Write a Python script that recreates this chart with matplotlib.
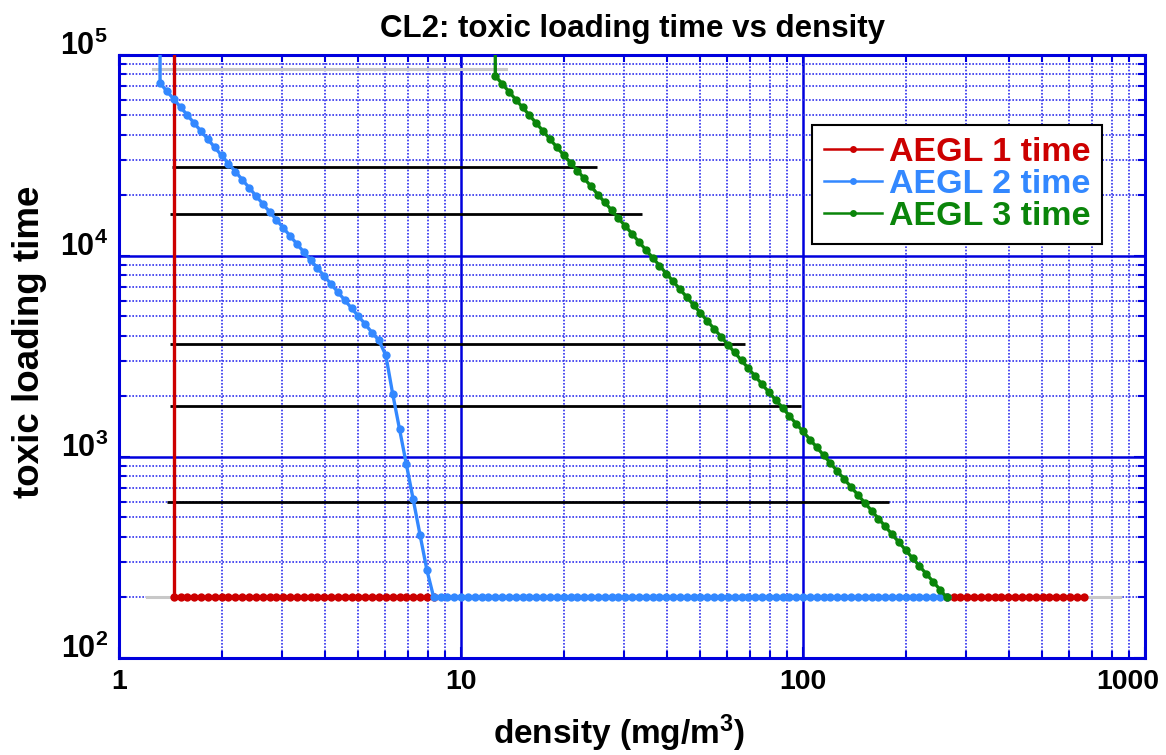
import numpy as np
import matplotlib.pyplot as plt
from matplotlib.lines import Line2D

plt.rcParams['font.family'] = ['Liberation Sans', 'DejaVu Sans']
plt.rcParams['font.weight'] = 'bold'
plt.rcParams['mathtext.fontset'] = 'custom'
plt.rcParams['mathtext.rm'] = 'Liberation Sans:bold'
plt.rcParams['mathtext.bf'] = 'Liberation Sans:bold'
plt.rcParams['mathtext.it'] = 'Liberation Sans:bold:italic'

# density samples (mg/m3) at the marker positions, index = position on the grid
density = [
    1.000, 1.047, 1.096, 1.148, 1.202, 1.259, 1.318, 1.380, 1.445, 1.514,
    1.585, 1.660, 1.738, 1.820, 1.905, 1.995, 2.089, 2.188, 2.291, 2.399,
    2.512, 2.630, 2.754, 2.884, 3.020, 3.162, 3.311, 3.467, 3.631, 3.802,
    3.981, 4.169, 4.365, 4.571, 4.786, 5.012, 5.248, 5.495, 5.754, 6.026,
    6.310, 6.607, 6.918, 7.244, 7.586, 7.943, 8.318, 8.710, 9.120, 9.550,
    10.00, 10.47, 10.96, 11.48, 12.02, 12.59, 13.18, 13.80, 14.45, 15.14,
    15.85, 16.60, 17.38, 18.20, 19.05, 19.95, 20.89, 21.88, 22.91, 23.99,
    25.12, 26.30, 27.54, 28.84, 30.20, 31.62, 33.11, 34.67, 36.31, 38.02,
    39.81, 41.69, 43.65, 45.71, 47.86, 50.12, 52.48, 54.95, 57.54, 60.26,
    63.10, 66.07, 69.18, 72.44, 75.86, 79.43, 83.18, 87.10, 91.20, 95.50,
    100.0, 104.7, 109.6, 114.8, 120.2, 125.9, 131.8, 138.0, 144.5, 151.4,
    158.5, 166.0, 173.8, 182.0, 190.5, 199.5, 208.9, 218.8, 229.1, 239.9,
    251.2, 263.0, 275.4, 288.4, 302.0, 316.2, 331.1, 346.7, 363.1, 380.2,
    398.1, 416.9, 436.5, 457.1, 478.6, 501.2, 524.8, 549.5, 575.4, 602.6,
    631.0, 660.7, 691.8, 724.4, 758.6, 794.3, 831.8, 871.0, 912.0, 955.0,
]

FLOOR = 200        # minimum loading time
OFF_TOP = 1e6      # curves enter from above the plot

# AEGL 2: density[6] .. density[46], then flat at FLOOR
aegl2_curve = [72440, 66070, 60260, 54950, 50120, 45710, 41690, 38020, 34670,
               31620, 28840, 26300, 23990, 21880, 19950, 18200, 16600, 15140,
               13800, 12590, 11480, 10470, 9550, 8710, 7943, 7244, 6607, 6026,
               5495, 5012, 4571, 4150, 3800, 3200, 2060, 1377, 920, 615, 410,
               274, 200]

# AEGL 3: density[55] .. density[121]
aegl3_curve = [78700, 71900, 65700, 60000, 54800, 50100, 45700, 41800, 38100,
               34800, 31800, 29100, 26600, 24300, 22200, 20200, 18500, 16900,
               15400, 14100, 12900, 11750, 10740, 9810, 8960, 8180, 7480, 6830,
               6240, 5700, 5200, 4750, 4340, 3970, 3620, 3310, 3020, 2760, 2520,
               2300, 2100, 1920, 1760, 1600, 1460, 1340, 1220, 1120, 1020, 932,
               851, 777, 710, 649, 592, 541, 494, 452, 412, 377, 344, 314, 287,
               262, 240, 219, 200]

# black reference levels
ref_levels = [27800, 16100, 3640, 1790, 600]
ref_start = [1.43, 1.41, 1.41, 1.41, 1.38]
ref_end = [24.9, 33.8, 67.6, 98.5, 178]

# gray background limits
floor_x = [1.21, 845]
ceil_x = [1.26, 13.5]
ceil_level = 85000

xtick_vals = [1, 10, 100, 1000]
xtick_text = ['1', '10', '100', '1000']
ytick_vals = [1e2, 1e3, 1e4, 1e5]
ytick_text = [r'$\mathbf{10^{2}}$', r'$\mathbf{10^{3}}$',
              r'$\mathbf{10^{4}}$', r'$\mathbf{10^{5}}$']

aegl1_x = [density[8]] + density[8:47] + [np.nan] + density[121:142]
aegl1_y = [OFF_TOP] + [FLOOR] * 39 + [np.nan] + [FLOOR] * 21
aegl2_x = [density[6]] + density[6:122]
aegl2_y = [OFF_TOP] + aegl2_curve + [FLOOR] * 75
aegl3_x = [density[55]] + density[55:122]
aegl3_y = [OFF_TOP] + aegl3_curve

RED = '#cc0000'
BLUE = '#3388ff'
GREEN = '#0a850a'
GRIDBLUE = '#0000dd'

fig = plt.figure(figsize=(11.66, 7.55), dpi=100)
ax = fig.add_axes([0.1021, 0.1285, 0.880, 0.7987])
ax.set_xscale('log')
ax.set_yscale('log')
ax.set_xlim(1, 1000)
ax.set_ylim(100, 1e5)
ax.set_axisbelow(True)

ax.grid(True, which='major', color=GRIDBLUE, lw=1.8, ls='-')
ax.grid(True, which='minor', color='#3030ee', lw=1.2, ls=(0, (1, 1)))

ax.plot(floor_x, [FLOOR, FLOOR], color='#c8c8c8', lw=2.2, zorder=2)
ax.plot(ceil_x, [ceil_level, ceil_level], color='#c8c8c8', lw=2.2, zorder=2)
ax.hlines(ref_levels, ref_start, ref_end, color='black', lw=2, zorder=2.5)

style = dict(lw=2.4, marker='o', ms=6, mew=0, zorder=3)
ax.plot(aegl1_x, aegl1_y, color=RED, **style)
ax.plot(aegl2_x, aegl2_y, color=BLUE, **style)
ax.plot(aegl3_x, aegl3_y, color=GREEN, **style)

handles = [Line2D([0], [0], color=c, lw=1.8, marker='o', ms=5, mew=0)
           for c in (RED, BLUE, GREEN)]
leg = ax.legend(handles, ['AEGL 1 time', 'AEGL 2 time', 'AEGL 3 time'],
                loc='upper right', bbox_to_anchor=(0.958, 0.884),
                borderaxespad=0, fancybox=False, framealpha=1,
                edgecolor='black', labelcolor='linecolor',
                prop={'weight': 'bold', 'size': 24.5},
                handlelength=1.7, handletextpad=0.2, labelspacing=0.03,
                borderpad=0.35, numpoints=1)
leg.get_frame().set_linewidth(1.5)

# the last x label is pulled in from the right edge, so it is drawn by hand
ax.set_xticks(xtick_vals, labels=xtick_text[:-1] + [''])
ax.annotate(xtick_text[-1], xy=(xtick_vals[-1], ytick_vals[0]),
            xytext=(-17, -11), textcoords='offset pixels',
            ha='center', va='top', fontsize=20.5, fontweight='bold',
            annotation_clip=False)
ax.set_yticks(ytick_vals, labels=ytick_text)
for lbl in ax.get_yticklabels():
    lbl.set_verticalalignment('baseline')
    lbl.set_fontsize(22)

for s in ax.spines.values():
    s.set_color(GRIDBLUE)
    s.set_linewidth(2.2)
ax.tick_params(which='both', direction='in', top=True, right=True,
               color=GRIDBLUE, width=1.5)
ax.tick_params(axis='x', which='major', labelsize=20.5)
ax.tick_params(which='major', length=8, pad=8)
ax.tick_params(which='minor', length=5)

ax.set_title('CL2: toxic loading time vs density', fontsize=22.5,
             fontweight='bold', pad=13)
ax.set_xlabel(r'density (mg/m$^{\mathbf{3}}$)', fontsize=24, fontweight='bold')
ax.xaxis.set_label_coords(0.487, -0.090)
ax.set_ylabel('toxic loading time', fontsize=26.5, fontweight='bold')
ax.yaxis.set_label_coords(-0.070, 0.524)

fig.savefig('out.png', dpi=100)
